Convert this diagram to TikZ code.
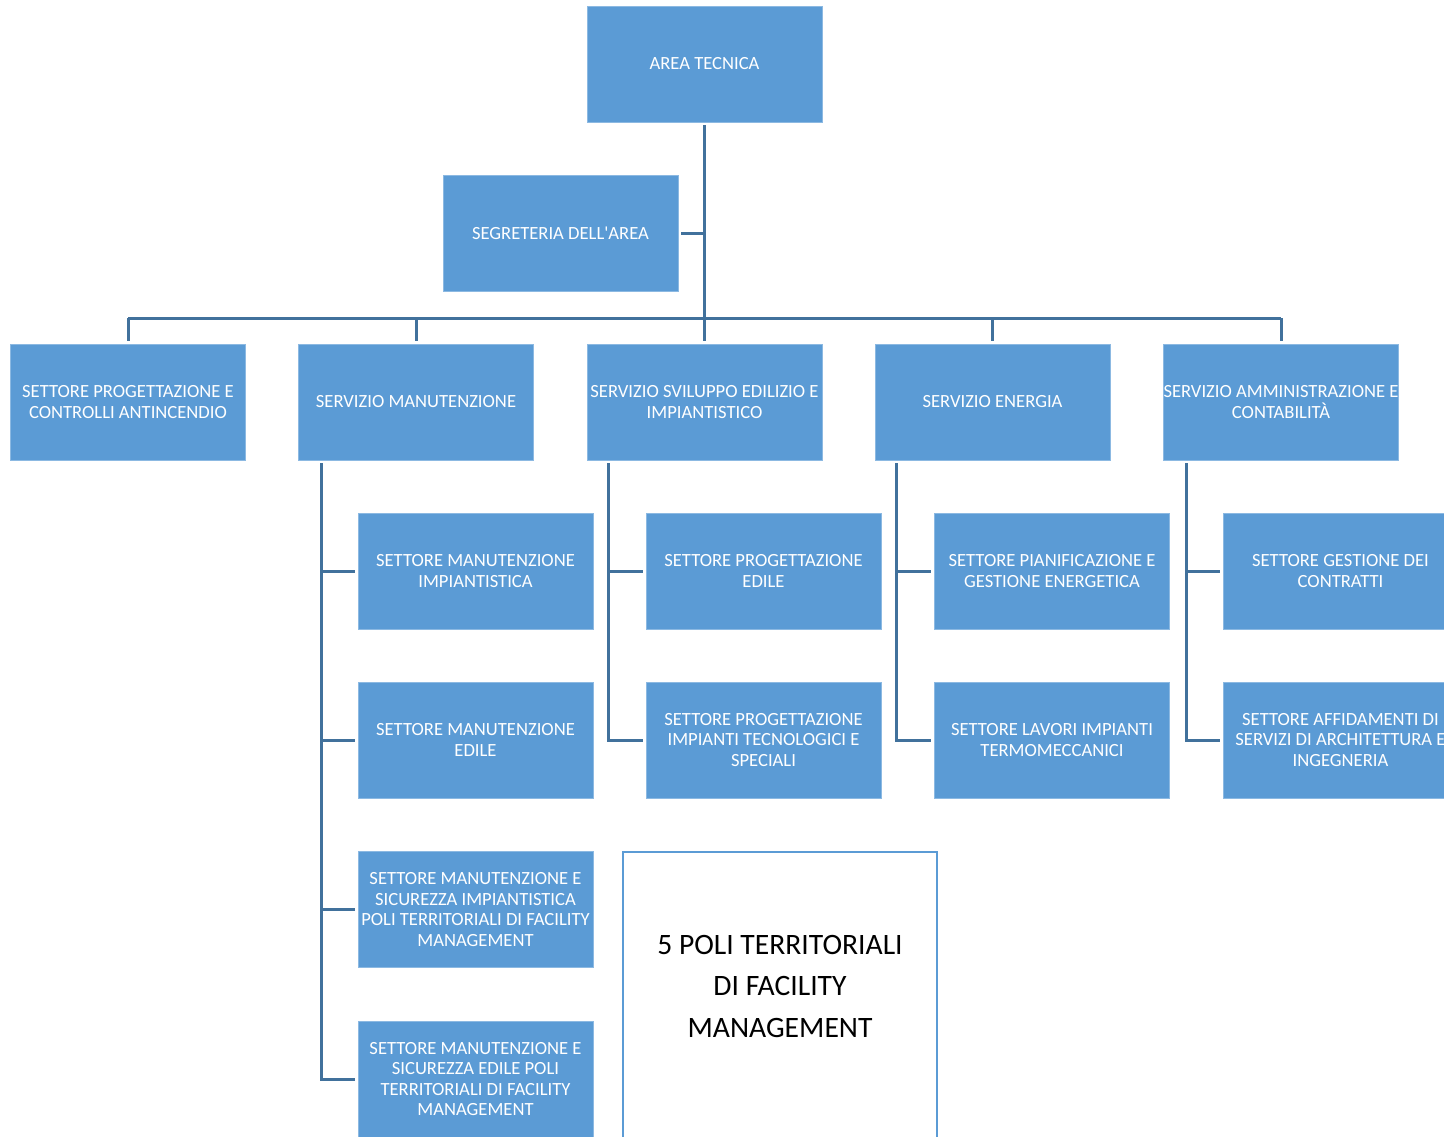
\documentclass[tikz,border=0pt]{standalone}
\usepackage{fontspec}
\setmainfont{Carlito}
\definecolor{boxblue}{RGB}{91,155,213}
\definecolor{lineblue}{RGB}{65,113,156}
\begin{document}
\begin{tikzpicture}[x=1pt,y=-1pt,
  box/.style={fill=boxblue, draw=boxblue!70!white, line width=0.6pt, minimum width=235pt, minimum height=116pt,
    text=white, align=center, inner sep=0pt, font=\fontsize{18.6}{20.5}\selectfont},
  conn/.style={draw=lineblue, line width=3pt}]
\useasboundingbox (0,0) rectangle (1444,1136);
\clip (0,0) rectangle (1444,1136);
% nodes
\node[box] (area) at (704.5,64) {AREA TECNICA};
\node[box] (seg) at (560.5,233) {SEGRETERIA DELL\textquotesingle AREA};
\node[box] (spa) at (128,402) {SETTORE PROGETTAZIONE E\\CONTROLLI ANTINCENDIO};
\node[box] (man) at (416,402) {SERVIZIO MANUTENZIONE};
\node[box] (svi) at (704.5,402) {SERVIZIO SVILUPPO EDILIZIO E\\IMPIANTISTICO};
\node[box] (ene) at (992.5,402) {SERVIZIO ENERGIA};
\node[box] (amm) at (1281,402) {SERVIZIO AMMINISTRAZIONE E\\CONTABILITÀ};
% manutenzione children
\node[box] (m1) at (475.5,571) {SETTORE MANUTENZIONE\\IMPIANTISTICA};
\node[box] (m2) at (475.5,740) {SETTORE MANUTENZIONE\\EDILE};
\node[box] (m3) at (475.5,909.5) {SETTORE MANUTENZIONE E\\SICUREZZA IMPIANTISTICA\\POLI TERRITORIALI DI FACILITY\\MANAGEMENT};
\node[box] (m4) at (475.5,1079) {SETTORE MANUTENZIONE E\\SICUREZZA EDILE POLI\\TERRITORIALI DI FACILITY\\MANAGEMENT};
% sviluppo children
\node[box] (s1) at (763.5,571) {SETTORE PROGETTAZIONE\\EDILE};
\node[box] (s2) at (763.5,740) {SETTORE PROGETTAZIONE\\IMPIANTI TECNOLOGICI E\\SPECIALI};
% energia children
\node[box] (e1) at (1052,571) {SETTORE PIANIFICAZIONE E\\GESTIONE ENERGETICA};
\node[box] (e2) at (1052,740) {SETTORE LAVORI IMPIANTI\\TERMOMECCANICI};
% amministrazione children
\node[box] (a1) at (1340.5,571) {SETTORE GESTIONE DEI\\CONTRATTI};
\node[box] (a2) at (1340.5,740) {SETTORE AFFIDAMENTI DI\\SERVIZI DI ARCHITETTURA E\\INGEGNERIA};
% poli box
\draw[draw=boxblue, line width=2pt, fill=white] (623,852) rectangle (937,1160);
\node[align=center, font=\fontsize{29.6}{41.5}\selectfont] (poli) at (780,986) {5 POLI TERRITORIALI\\DI FACILITY\\MANAGEMENT};
% connectors
\coordinate (barL) at (128,318);
\coordinate (barR) at (1281,318);
\draw[conn] ([yshift=-3pt]area.south) -- ([yshift=3pt]svi.north);
\draw[conn] ([xshift=3pt]seg.east) -- (seg.east -| area.south);
\draw[conn] (barL) -- (barR);
\foreach \n in {spa,man,ene,amm}{
  \draw[conn] (\n.north |- barL) -- ([yshift=3pt]\n.north);
}
% children connectors
\draw[conn] ([xshift=23pt,yshift=-3pt]man.south west) |- ([xshift=-3pt]m4.west);
\foreach \c in {m1,m2,m3}{
  \draw[conn] ([xshift=23pt]man.south west |- \c.west) -- ([xshift=-3pt]\c.west);
}
\draw[conn] ([xshift=22pt,yshift=-3pt]svi.south west) |- ([xshift=-3pt]s2.west);
\draw[conn] ([xshift=22pt]svi.south west |- s1.west) -- ([xshift=-3pt]s1.west);
\draw[conn] ([xshift=22pt,yshift=-3pt]ene.south west) |- ([xshift=-3pt]e2.west);
\draw[conn] ([xshift=22pt]ene.south west |- e1.west) -- ([xshift=-3pt]e1.west);
\draw[conn] ([xshift=23pt,yshift=-3pt]amm.south west) |- ([xshift=-3pt]a2.west);
\draw[conn] ([xshift=23pt]amm.south west |- a1.west) -- ([xshift=-3pt]a1.west);
\end{tikzpicture}
\end{document}
